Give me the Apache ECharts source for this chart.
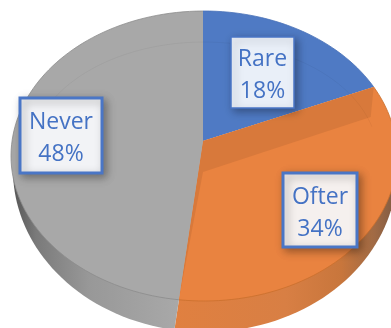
<!DOCTYPE html>
<html><head><meta charset="utf-8">
<style>html,body{margin:0;padding:0;background:#fff}#c{width:391px;height:328px}</style>
<script src="https://cdn.jsdelivr.net/npm/echarts@6/dist/echarts.min.js"></script>
</head><body><div id="c"></div>
<script>
const categories = ['Rare', 'Ofter', 'Never'];
const shares = [18, 34, 48];

const faceColors = ['#4f7ac4', '#e98340', '#a8a8a8'];
const TOP = {cx:204, cy:156, rx:193, ry:145};
const BASE = {cx:205, cy:170, rx:192, ry:162};
const G = {ax:203, ay:141, kUp:130, kDown:160, innerDy:31};
const boxes = [
  {x:231, y:37, w:63, h:71, lw:1.5, fill:'#e9eff8'},
  {x:283, y:173, w:74, h:74, lw:3, fill:'#f5f0ee'},
  {x:20, y:98, w:82, h:75, lw:3, fill:'#f2f3f6'}
];

function rim(deg, E){
  const t = deg*Math.PI/180, s = Math.sin(t), c = Math.cos(t);
  const dx = E.rx*s, dy = -(c>0?G.kUp:G.kDown)*c;
  const ox = (G.ax-E.cx)/E.rx, oy = (G.ay-E.cy)/E.ry, px = dx/E.rx, py = dy/E.ry;
  const A = px*px+py*py, B = 2*(ox*px+oy*py), C = ox*ox+oy*oy-1;
  const u = (-B+Math.sqrt(B*B-4*A*C))/(2*A);
  return [G.ax+dx*u, G.ay+dy*u];
}
function arc(a0,a1,E){
  const pts=[]; const n=Math.max(2,Math.ceil(Math.abs(a1-a0)/2));
  for(let i=0;i<=n;i++) pts.push(rim(a0+(a1-a0)*i/n,E));
  return pts;
}
function range(i){
  const tot = shares.reduce((a,b)=>a+b,0);
  let s=0; for(let k=0;k<i;k++) s+=shares[k];
  return [s/tot*360,(s+shares[i])/tot*360];
}
function hGrad(stops){
  return {type:'linear',x:0,y:0,x2:1,y2:0,colorStops:stops};
}
const wallFill = [
  null,
  hGrad([{offset:0,color:'#e08040'},{offset:.5,color:'#d87f44'},{offset:.75,color:'#c8763c'},{offset:.9,color:'#a06a45'},{offset:1,color:'#7d5a42'}]),
  hGrad([{offset:0,color:'#565656'},{offset:.12,color:'#7a7a7a'},{offset:.4,color:'#989898'},{offset:1,color:'#adadad'}])
];
function wallItem(p){
  const i=p.dataIndex;
  if(!wallFill[i]) return {type:'group',children:[]};
  const [r0,r1]=range(i), a0=Math.max(r0,90), a1=Math.min(r1,270);
  const pts=[[G.ax,G.ay]].concat(arc(a0,a1,BASE));
  return {type:'polygon',shape:{points:pts},style:{fill:wallFill[i]},silent:true};
}
function faceItem(p){
  const i=p.dataIndex, [a0,a1]=range(i);
  const pts=[[G.ax,G.ay]].concat(arc(a0,a1,TOP));
  const children=[{type:'polygon',shape:{points:pts},style:{fill:faceColors[i]}}];
  children.push({type:'polyline',shape:{points:arc(a0,a1,TOP)},style:{fill:null,stroke:i===0?'#4a72b8':(i===1?'#c96f2d':'#8c8c8c'),lineWidth:1,opacity:.8}});
  if(i===1){
    const e0=rim(a0,TOP), e1=rim(a1,TOP), a=[G.ax,G.ay];
    children.push({type:'polygon',shape:{points:[a,e0,[e0[0]-3,e0[1]+G.innerDy-1],[G.ax,G.ay+G.innerDy],e1]},style:{fill:'#d8793b'}});
  }
  return {type:'group',children};
}
function ringItem(p){
  const i=p.dataIndex, [r0,r1]=range(i);
  const a0=r1>270?Math.max(r0,280):r0, a1=r1>270?r1:Math.min(r1,80);
  if(a0>=a1) return {type:'group',children:[]};
  const pts=arc(a0,a1,TOP).map(q=>[TOP.cx+(q[0]-TOP.cx)*.9, TOP.cy+(q[1]-TOP.cy)*.786]);
  return {type:'polyline',shape:{points:pts},style:{fill:null,stroke:'rgba(0,0,0,0.04)',lineWidth:1}};
}
function labelItem(p){
  const i=p.dataIndex, b=boxes[i];
  return {type:'group',children:[
    {type:'rect',shape:{x:b.x,y:b.y,width:b.w,height:b.h},
     style:{fill:b.fill,stroke:'#4a76c6',lineWidth:b.lw,shadowBlur:8,shadowColor:'rgba(0,0,0,0.32)',shadowOffsetX:3,shadowOffsetY:3}},
    {type:'text',x:b.x+b.w/2,y:b.y+b.h/2+3,
     style:{text:categories[i]+'\n'+shares[i]+'%',fill:'#4472c4',font:'23px "Open Sans"',lineHeight:32,align:'center',verticalAlign:'middle'}}
  ]};
}
const base = categories.map((c,i)=>({name:c,value:shares[i]}));
const chart = echarts.init(document.getElementById('c'),null,{renderer:'canvas',width:391,height:328});
chart.setOption({
  animation:false,
  backgroundColor:'#fff',
  series:[
    {type:'custom',coordinateSystem:'none',renderItem:wallItem,data:base,silent:true,z:1},
    {type:'custom',coordinateSystem:'none',renderItem:faceItem,data:base,silent:true,z:2},
    {type:'custom',coordinateSystem:'none',renderItem:ringItem,data:base,silent:true,z:3},
    {type:'custom',coordinateSystem:'none',renderItem:labelItem,data:base,silent:true,z:4}
  ]
});
</script></body></html>
